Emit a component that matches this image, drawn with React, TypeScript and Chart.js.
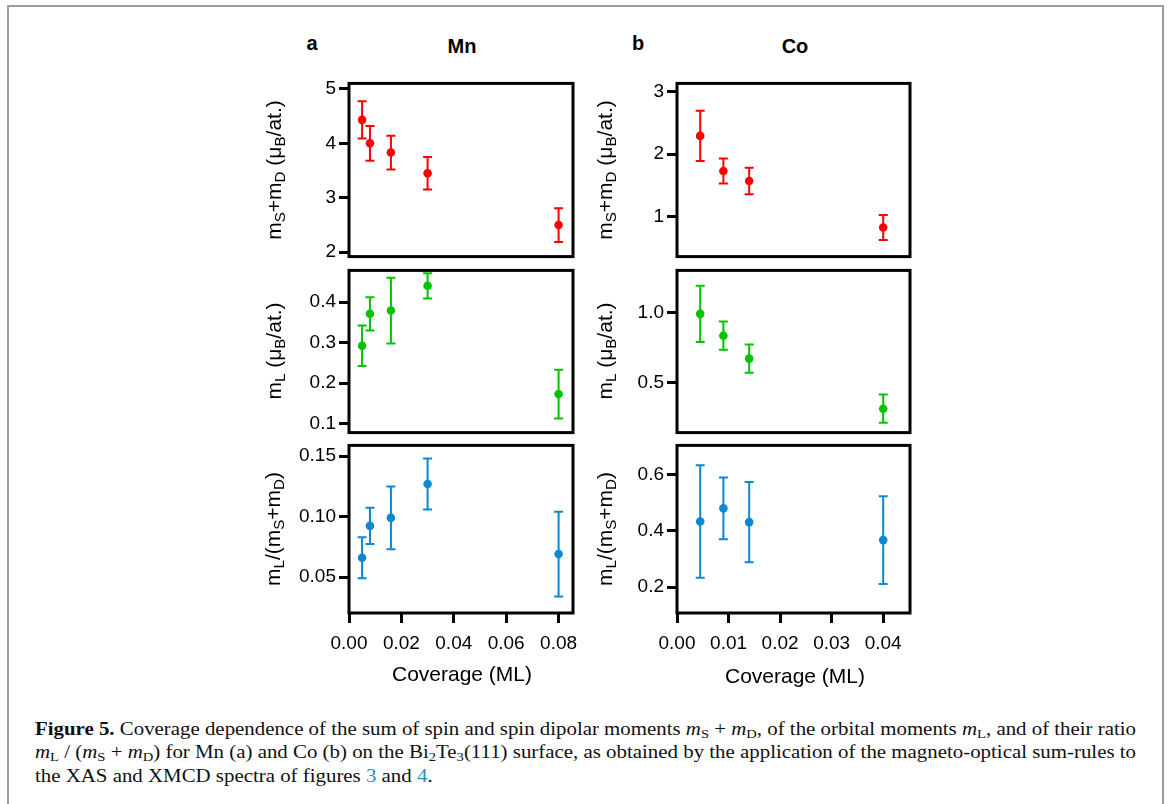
import React, { useEffect, useLayoutEffect, useRef } from 'react';
import { Chart, registerables } from 'chart.js';

Chart.register(...registerables);

// ---------------- data ----------------
const MN_X = [0.005, 0.008, 0.016, 0.03, 0.08];
const CO_X = [0.0045, 0.009, 0.014, 0.04];

const MN_MSD = [4.43, 4.0, 3.83, 3.45, 2.5];
const MN_MSD_ERR = [0.34, 0.32, 0.31, 0.3, 0.31];
const CO_MSD = [2.29, 1.73, 1.57, 0.83];
const CO_MSD_ERR = [0.4, 0.2, 0.21, 0.2];

const MN_ML = [0.292, 0.371, 0.379, 0.44, 0.173];
const MN_ML_ERR = [0.05, 0.041, 0.081, 0.031, 0.06];
const CO_ML = [0.99, 0.835, 0.672, 0.316];
const CO_ML_ERR = [0.2, 0.1, 0.1, 0.1];

const MN_RATIO = [0.066, 0.0923, 0.0989, 0.1269, 0.069];
const MN_RATIO_ERR = [0.017, 0.015, 0.026, 0.021, 0.035];
const CO_RATIO = [0.433, 0.48, 0.431, 0.367];
const CO_RATIO_ERR = [0.2, 0.11, 0.143, 0.156];

const MN_X_TICKS = [0, 0.02, 0.04, 0.06, 0.08];
const CO_X_TICKS = [0, 0.01, 0.02, 0.03, 0.04];
const MN_MSD_TICKS = [2, 3, 4, 5];
const CO_MSD_TICKS = [1, 2, 3];
const MN_ML_TICKS = [0.1, 0.2, 0.3, 0.4];
const CO_ML_TICKS = [0.5, 1.0];
const MN_RATIO_TICKS = [0.05, 0.1, 0.15];
const CO_RATIO_TICKS = [0.2, 0.4, 0.6];

const RED = '#ff0000';
const GREEN = '#00c400';
const BLUE = '#0b88d2';

const SANS = '"Liberation Sans", Arial, Helvetica, sans-serif';
const SERIF = '"Liberation Serif", "Times New Roman", serif';

// ---------------- layout ----------------
const AX_W = 80;
const PAD = 14;
const PAD_R = 32;
const X_H = 48;

type PanelProps = {
  left: number;
  top: number;
  width: number;
  height: number;
  xs: number[];
  ys: number[];
  err: number[];
  color: string;
  xMin: number;
  xMax: number;
  yMin: number;
  yMax: number;
  yTicks: number[];
  yDec: number;
  xTicks?: number[];
  xDec?: number;
};

function Panel(p: PanelProps) {
  const ref = useRef<HTMLCanvasElement | null>(null);
  const hasX = !!p.xTicks;
  const cw = p.width + AX_W + PAD_R;
  const ch = p.height + PAD + (hasX ? X_H : PAD);

  useEffect(() => {
    if (!ref.current) return;
    const errPlugin = {
      id: 'errbarsFrame',
      beforeDatasetsDraw(chart: any) {
        const { ctx, scales } = chart;
        const x = scales.x;
        const y = scales.y;
        ctx.save();
        ctx.strokeStyle = p.color;
        ctx.lineWidth = 2;
        p.xs.forEach((xv, i) => {
          const px = x.getPixelForValue(xv);
          const t = y.getPixelForValue(p.ys[i] + p.err[i]);
          const b = y.getPixelForValue(p.ys[i] - p.err[i]);
          ctx.beginPath();
          ctx.moveTo(px, t);
          ctx.lineTo(px, b);
          ctx.moveTo(px - 4.5, t);
          ctx.lineTo(px + 4.5, t);
          ctx.moveTo(px - 4.5, b);
          ctx.lineTo(px + 4.5, b);
          ctx.stroke();
        });
        ctx.restore();
      },
      afterDraw(chart: any) {
        const { ctx, chartArea } = chart;
        ctx.save();
        ctx.strokeStyle = '#000';
        ctx.lineWidth = 3;
        ctx.strokeRect(chartArea.left, chartArea.top, chartArea.right - chartArea.left, chartArea.bottom - chartArea.top);
        ctx.restore();
      },
    };
    const tickFont = { family: SANS, size: 19 };
    const chart = new Chart(ref.current, {
      type: 'scatter',
      data: {
        datasets: [
          {
            data: p.xs.map((x, i) => ({ x, y: p.ys[i] })),
            backgroundColor: p.color,
            borderColor: p.color,
            pointRadius: 4.3,
            pointBorderWidth: 0,
            pointHoverRadius: 4.3,
          },
        ],
      },
      options: {
        animation: false,
        responsive: false,
        maintainAspectRatio: false,
        events: [],
        layout: { padding: { left: 0, top: PAD, right: PAD_R, bottom: hasX ? 0 : PAD } },
        plugins: { legend: { display: false }, tooltip: { enabled: false }, title: { display: false } },
        scales: {
          x: {
            type: 'linear',
            min: p.xMin,
            max: p.xMax,
            display: hasX,
            afterBuildTicks: (s: any) => {
              s.ticks = (p.xTicks || []).map((v) => ({ value: v }));
            },
            afterFit: (s: any) => {
              s.height = hasX ? X_H : 0;
            },
            grid: { drawOnChartArea: false, drawTicks: true, tickLength: 10, lineWidth: 3, color: '#000' },
            border: { display: false },
            ticks: {
              font: tickFont,
              color: '#000',
              padding: 9,
              maxRotation: 0,
              autoSkip: false,
              callback: (v: any) => Number(v).toFixed(p.xDec ?? 2),
            },
          },
          y: {
            type: 'linear',
            min: p.yMin,
            max: p.yMax,
            afterBuildTicks: (s: any) => {
              s.ticks = p.yTicks.map((v) => ({ value: v }));
            },
            afterFit: (s: any) => {
              s.width = AX_W;
            },
            grid: { drawOnChartArea: false, drawTicks: true, tickLength: 10, lineWidth: 3, color: '#000' },
            border: { display: false },
            ticks: {
              font: tickFont,
              color: '#000',
              padding: 3,
              autoSkip: false,
              callback: (v: any) => Number(v).toFixed(p.yDec),
            },
          },
        },
      } as any,
      plugins: [errPlugin],
    });
    return () => chart.destroy();
  }, []);

  return (
    <canvas
      ref={ref}
      width={cw}
      height={ch}
      style={{ position: 'absolute', left: p.left - AX_W, top: p.top - PAD, width: cw, height: ch }}
    />
  );
}

const subStyle: React.CSSProperties = { fontSize: '0.72em', verticalAlign: '-0.28em', lineHeight: 0 };
const S = (t: string) => <span style={subStyle}>{t}</span>;

function YTitle({ x, y, children }: { x: number; y: number; children: React.ReactNode }) {
  return (
    <div
      style={{
        position: 'absolute',
        left: x,
        top: y,
        transform: 'translate(-50%, -50%) rotate(-90deg)',
        whiteSpace: 'nowrap',
        fontFamily: SANS,
        fontSize: 21,
        lineHeight: 1,
        color: '#000',
      }}
    >
      {children}
    </div>
  );
}

function Label({ x, y, text, bold, size }: { x: number; y: number; text: string; bold?: boolean; size: number }) {
  return (
    <div
      style={{
        position: 'absolute',
        left: x,
        top: y,
        transform: 'translate(-50%, -50%)',
        whiteSpace: 'nowrap',
        fontFamily: SANS,
        fontSize: size,
        fontWeight: bold ? 'bold' : 'normal',
        lineHeight: 1,
        color: '#000',
      }}
    >
      {text}
    </div>
  );
}

const capSub: React.CSSProperties = { fontSize: '0.7em', verticalAlign: '-0.22em', lineHeight: 0, fontStyle: 'normal' };
const M = (s: string) => (
  <>
    <i>m</i>
    <span style={capSub}>{s}</span>
  </>
);

export default function App() {
  const capRefs = [useRef<HTMLSpanElement | null>(null), useRef<HTMLSpanElement | null>(null), useRef<HTMLSpanElement | null>(null)];

  useLayoutEffect(() => {
    const target = 1101;
    const ws = capRefs.map((r) => (r.current ? r.current.getBoundingClientRect().width : target));
    const k0 = target / ws[0];
    const k1 = target / ws[1];
    const ks = [k0, k1, (k0 + k1) / 2];
    capRefs.forEach((r, i) => {
      if (r.current) r.current.style.transform = `scaleX(${ks[i]})`;
    });
  }, []);

  const capLine = (top: number, idx: number, content: React.ReactNode) => (
    <div style={{ position: 'absolute', left: 35, top, whiteSpace: 'nowrap', fontFamily: SERIF, fontSize: 19, lineHeight: '23px', color: '#111' }}>
      <span ref={capRefs[idx]} style={{ display: 'inline-block', transformOrigin: 'left center' }}>
        {content}
      </span>
    </div>
  );

  const mnL = 349, mnW = 224;
  const coL = 677, coW = 233;
  const r1T = 83, r1H = 174;
  const r2T = 270, r2H = 163;
  const r3T = 445, r3H = 168;

  return (
    <div style={{ position: 'absolute', left: 0, top: 0, width: 1168, height: 804, background: '#fff', overflow: 'hidden' }}>
      <div style={{ position: 'absolute', left: 7, top: 5, width: 1153, height: 820, border: '2px solid #9c9c9c' }} />

      <Label x={312} y={43} text="a" bold size={20} />
      <Label x={462} y={46} text="Mn" bold size={20} />
      <Label x={638} y={43} text="b" bold size={20} />
      <Label x={795} y={46} text="Co" bold size={20} />

      <Panel left={mnL} top={r1T} width={mnW} height={r1H} xs={MN_X} ys={MN_MSD} err={MN_MSD_ERR} color={RED}
        xMin={0} xMax={0.0855} yMin={1.92} yMax={5.1} yTicks={MN_MSD_TICKS} yDec={0} />
      <Panel left={mnL} top={r2T} width={mnW} height={r2H} xs={MN_X} ys={MN_ML} err={MN_ML_ERR} color={GREEN}
        xMin={0} xMax={0.0855} yMin={0.078} yMax={0.478} yTicks={MN_ML_TICKS} yDec={1} />
      <Panel left={mnL} top={r3T} width={mnW} height={r3H} xs={MN_X} ys={MN_RATIO} err={MN_RATIO_ERR} color={BLUE}
        xMin={0} xMax={0.0855} yMin={0.0203} yMax={0.1588} yTicks={MN_RATIO_TICKS} yDec={2} xTicks={MN_X_TICKS} xDec={2} />

      <Panel left={coL} top={r1T} width={coW} height={r1H} xs={CO_X} ys={CO_MSD} err={CO_MSD_ERR} color={RED}
        xMin={0} xMax={0.0452} yMin={0.365} yMax={3.127} yTicks={CO_MSD_TICKS} yDec={0} />
      <Panel left={coL} top={r2T} width={coW} height={r2H} xs={CO_X} ys={CO_ML} err={CO_ML_ERR} color={GREEN}
        xMin={0} xMax={0.0452} yMin={0.146} yMax={1.299} yTicks={CO_ML_TICKS} yDec={1} />
      <Panel left={coL} top={r3T} width={coW} height={r3H} xs={CO_X} ys={CO_RATIO} err={CO_RATIO_ERR} color={BLUE}
        xMin={0} xMax={0.0452} yMin={0.1076} yMax={0.704} yTicks={CO_RATIO_TICKS} yDec={1} xTicks={CO_X_TICKS} xDec={2} />

      <YTitle x={273} y={170}>m{S('S')}+m{S('D')} (μ{S('B')}/at.)</YTitle>
      <YTitle x={273} y={351}>m{S('L')} (μ{S('B')}/at.)</YTitle>
      <YTitle x={272} y={529}>m{S('L')}/(m{S('S')}+m{S('D')})</YTitle>
      <YTitle x={604} y={170}>m{S('S')}+m{S('D')} (μ{S('B')}/at.)</YTitle>
      <YTitle x={604} y={351}>m{S('L')} (μ{S('B')}/at.)</YTitle>
      <YTitle x={604} y={529}>m{S('L')}/(m{S('S')}+m{S('D')})</YTitle>

      <Label x={462} y={673} text="Coverage (ML)" size={21} />
      <Label x={795} y={675} text="Coverage (ML)" size={21} />

      {capLine(717, 0, (
        <>
          <b>Figure 5.</b> Coverage dependence of the sum of spin and spin dipolar moments {M('S')} + {M('D')}, of the orbital moments {M('L')}, and of their ratio
        </>
      ))}
      {capLine(740, 1, (
        <>
          {M('L')} / ({M('S')} + {M('D')}) for Mn (a) and Co (b) on the Bi<span style={capSub}>2</span>Te<span style={capSub}>3</span>(111) surface, as obtained by the application of the magneto-optical sum-rules to
        </>
      ))}
      {capLine(764, 2, (
        <>
          the XAS and XMCD spectra of figures <span style={{ color: '#2b8cc4' }}>3</span> and <span style={{ color: '#2b8cc4' }}>4</span>.
        </>
      ))}
    </div>
  );
}
